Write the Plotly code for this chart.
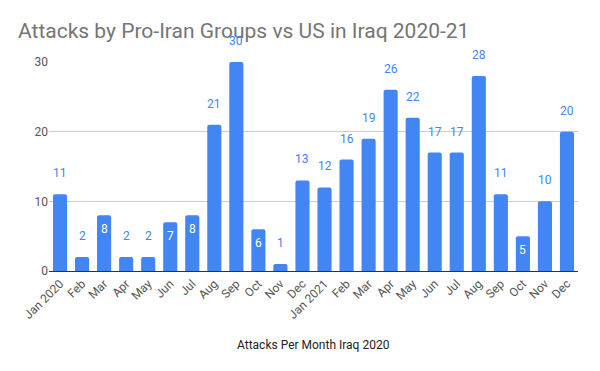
import plotly.graph_objects as go

months = ["Jan 2020", "Feb", "Mar", "Apr", "May", "Jun", "Jul", "Aug", "Sep", "Oct", "Nov", "Dec",
          "Jan 2021", "Feb", "Mar", "Apr", "May", "Jun", "Jul", "Aug", "Sep", "Oct", "Nov", "Dec"]
attacks = [11, 2, 8, 2, 2, 7, 8, 21, 30, 6, 1, 13,
           12, 16, 19, 26, 22, 17, 17, 28, 11, 5, 10, 20]
inside_idx = {2, 5, 6, 9, 21}

xs = list(range(len(months)))

fig = go.Figure(go.Bar(
    x=xs,
    y=attacks,
    marker=dict(color="#4285F4", cornerradius=2, line=dict(width=0)),
    width=0.64,
    hoverinfo="x+y",
))

annotations = []
for i, v in enumerate(attacks):
    if i in inside_idx:
        annotations.append(dict(x=i, y=v, xref="x", yref="y", text=str(v), showarrow=False,
                                yanchor="top", yshift=-5,
                                font=dict(size=12, color="white", family="Roboto")))
    else:
        annotations.append(dict(x=i, y=v, xref="x", yref="y", text=str(v), showarrow=False,
                                yanchor="bottom", yshift=12,
                                font=dict(size=12, color="#4285F4", family="Roboto")))

annotations.append(dict(text="Attacks Per Month Iraq 2020", x=0.5, xref="paper", xanchor="center",
                        y=-(345-271)/209, yref="paper", yanchor="middle", showarrow=False,
                        font=dict(size=12, color="#222", family="Roboto")))

fig.update_layout(
    width=600, height=371,
    margin=dict(l=41, r=30, t=54, b=108, autoexpand=False),
    paper_bgcolor="white", plot_bgcolor="white",
    font=dict(family="Roboto", color="#444"),
    showlegend=False,
    title=dict(text="Attacks by Pro-Iran Groups vs US in Iraq 2020-21",
               x=10/600, xanchor="left", xref="container",
               y=1-23/371, yanchor="middle", yref="container",
               font=dict(size=21, color="#757575", family="Roboto")),
    xaxis=dict(tickmode="array", tickvals=xs, ticktext=months,
               tickangle=-45, tickfont=dict(size=12, color="#555"), automargin=False,
               showgrid=False, showline=True, linecolor="#333", linewidth=1,
               range=[-0.5, len(months)-0.5], ticks=""),
    yaxis=dict(range=[0, 30], tickvals=[0, 10, 20, 30], tickfont=dict(size=12, color="#555"),
               gridcolor="#cccccc", zeroline=False, ticks="", automargin=False),
    annotations=annotations,
)

fig.write_html("out.html")
